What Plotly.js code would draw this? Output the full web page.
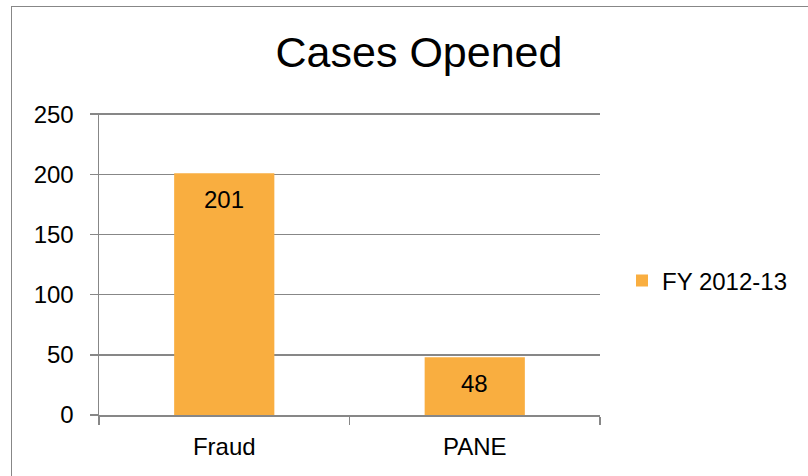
<!DOCTYPE html>
<html>
<head>
<meta charset="utf-8">
<script src="https://cdn.plot.ly/plotly-3.0.1.min.js"></script>
<style>
  html, body { margin: 0; padding: 0; background: #fff; overflow: hidden; }
  #wrap { position: relative; width: 808px; height: 476px; }
  #chart { width: 808px; height: 476px; }
  #frame { position: absolute; left: 11px; top: 6px; width: 900px; height: 600px;
           border-left: 1.5px solid #878787; border-top: 1.5px solid #878787; pointer-events: none; }
</style>
</head>
<body>
<div id="wrap">
  <div id="chart"></div>
  <div id="frame"></div>
</div>
<script>
const categories = ["Fraud", "PANE"];
const values = [201, 48];
const seriesName = "FY 2012-13";
const yTicks = [0, 50, 100, 150, 200, 250];
const chartTitle = "Cases Opened";

const FONT = "Liberation Sans, Arial, sans-serif";
const ORANGE = "#F9AE40";
const GRAY = "#878787";

const trace = {
  type: "bar",
  x: categories,
  y: values,
  name: seriesName,
  marker: { color: ORANGE },
  showlegend: true,
  hoverinfo: "none"
};

const annotations = categories.map((c, i) => ({
  x: c, y: values[i], xref: "x", yref: "y",
  text: String(values[i]), showarrow: false,
  yanchor: "middle", yshift: -26,
  font: { family: FONT, size: 24, color: "#000" }
}));

const layout = {
  width: 808, height: 476,
  margin: { l: 99, r: 208, t: 113, b: 61 },
  paper_bgcolor: "#fff", plot_bgcolor: "#fff",
  font: { family: FONT, size: 24, color: "#000" },
  title: {
    text: chartTitle,
    font: { family: FONT, size: 43, color: "#000" },
    x: 419 / 808, xanchor: "center", xref: "container",
    y: 1 - 52 / 476, yanchor: "middle", yref: "container"
  },
  bargap: 0.6,
  xaxis: {
    type: "category",
    showline: true, linecolor: GRAY, linewidth: 1.5,
    ticks: "outside", tickson: "boundaries", ticklen: 8, tickcolor: GRAY, tickwidth: 1.5,
    showgrid: false, zeroline: false,
    ticklabelstandoff: 10,
    tickfont: { family: FONT, size: 24, color: "#000" },
    fixedrange: true
  },
  yaxis: {
    range: [0, 251], tickvals: yTicks, ticktext: yTicks.map(String),
    showline: true, linecolor: GRAY, linewidth: 1.5,
    ticks: "outside", ticklen: 8, tickcolor: GRAY, tickwidth: 1.5,
    showgrid: true, gridcolor: GRAY, gridwidth: 1.5,
    zeroline: false,
    ticklabelstandoff: 11,
    tickfont: { family: FONT, size: 24, color: "#000" },
    fixedrange: true
  },
  legend: {
    x: (622 - 99) / 501, xanchor: "left",
    y: (415 - 281) / 302, yanchor: "middle",
    font: { family: FONT, size: 24, color: "#000" },
    bgcolor: "rgba(0,0,0,0)", borderwidth: 0
  },
  annotations: annotations,
  showlegend: true
};

Plotly.newPlot("chart", [trace], layout, { displayModeBar: false, staticPlot: true });
</script>
</body>
</html>
